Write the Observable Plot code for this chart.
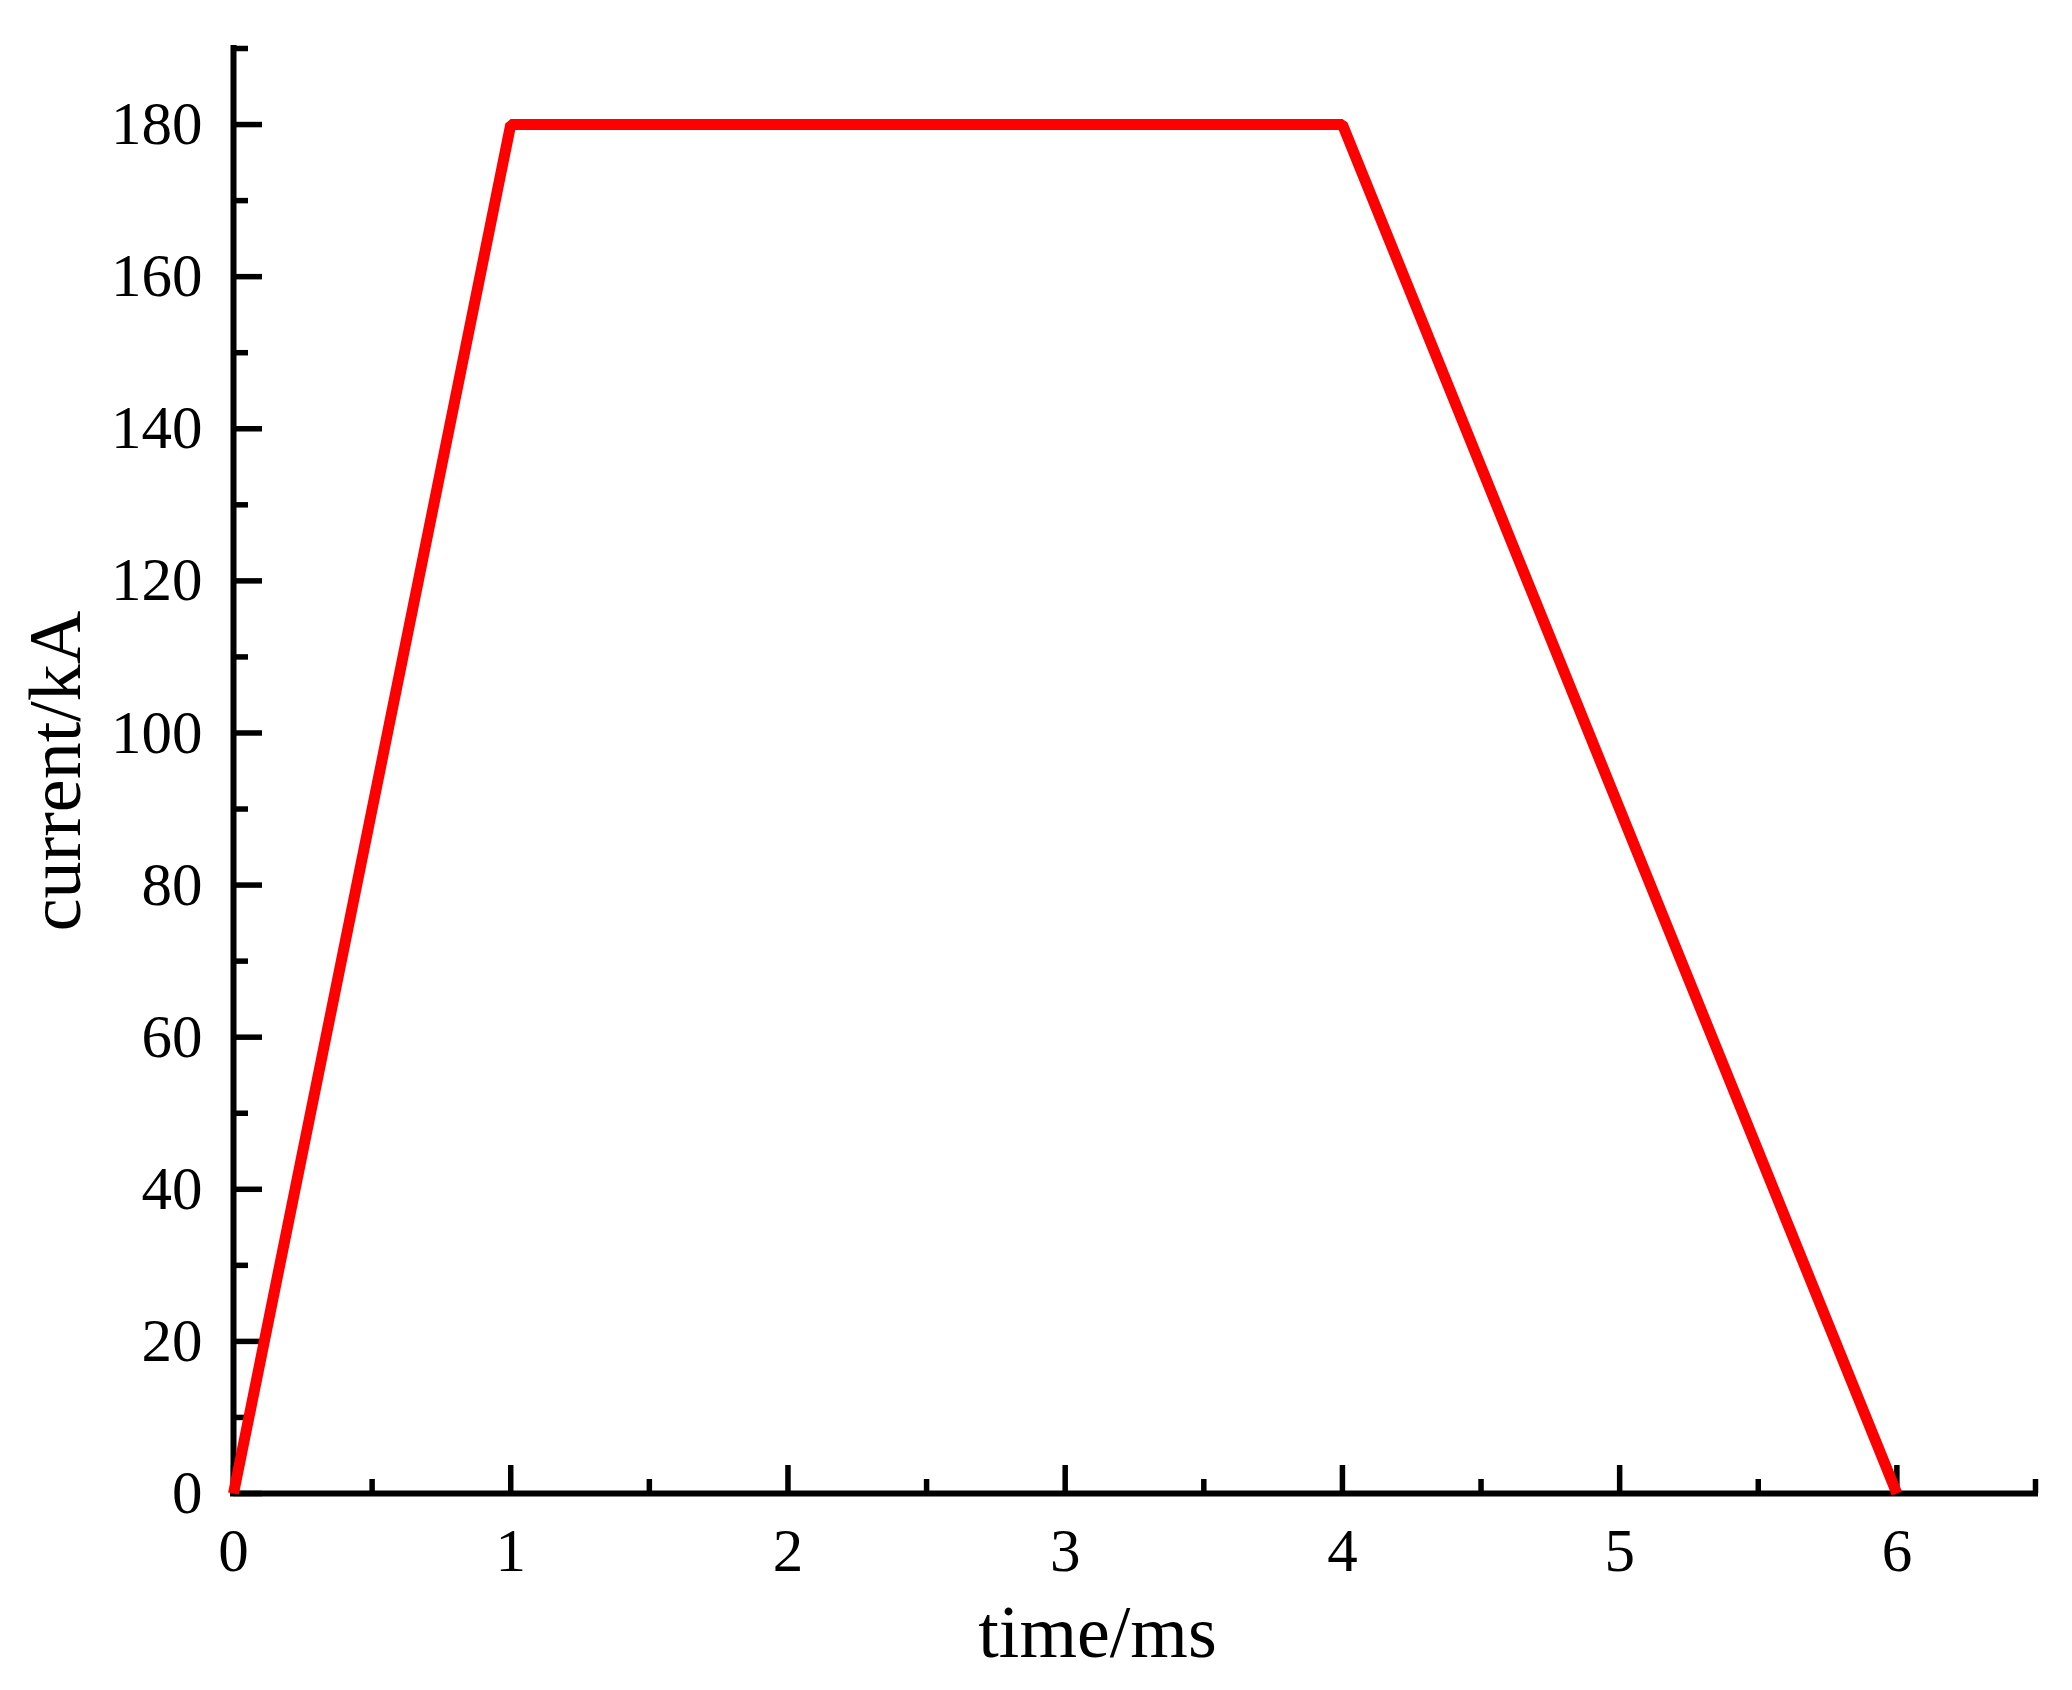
<!DOCTYPE html>
<html>
<head>
<meta charset="utf-8">
<script src="https://cdn.jsdelivr.net/npm/d3@7"></script>
<script src="https://cdn.jsdelivr.net/npm/@observablehq/plot@0.6"></script>
<style>
  html, body { margin: 0; padding: 0; background: #fff; }
</style>
</head>
<body>
<div id="chart"></div>
<script>
// Data
const time = [0, 1, 4, 6];            // ms
const current = [0, 180, 180, 0];     // kA

const xMajorTicks = [0, 1, 2, 3, 4, 5, 6];
const xMinorTicks = [0.5, 1.5, 2.5, 3.5, 4.5, 5.5, 6.5];
const yMajorTicks = [0, 20, 40, 60, 80, 100, 120, 140, 160, 180];
const yMinorTicks = [10, 30, 50, 70, 90, 110, 130, 150, 170, 190];

const xLabel = "time/ms";
const yLabel = "current/kA";

const data = time.map((t, i) => ({time: t, current: current[i]}));

const font = "Liberation Serif, Times New Roman, serif";

const chart = Plot.plot({
  width: 2072,
  height: 1690,
  marginLeft: 233,
  marginRight: 37,
  marginTop: 48,
  marginBottom: 197,
  style: {fontFamily: font, fontSize: "60px", color: "black", background: "white"},
  x: {domain: [0, 6.5], axis: null},
  y: {domain: [0, 190], axis: null},
  marks: [
    // axis lines
    Plot.ruleX([0], {stroke: "black", strokeWidth: 6, strokeLinecap: "square"}),
    Plot.ruleY([0], {stroke: "black", strokeWidth: 6, strokeLinecap: "square"}),
    // x ticks (pointing inward)
    Plot.axisX(xMajorTicks, {anchor: "bottom", tickSize: -28, strokeWidth: 5.5, tickFormat: () => "", label: null}),
    Plot.axisX(xMinorTicks, {anchor: "bottom", tickSize: -14, strokeWidth: 5.5, tickFormat: () => "", label: null}),
    // x tick labels
    Plot.axisX(xMajorTicks, {anchor: "bottom", tickSize: 0, tickPadding: 34, fontSize: 61, fontFamily: font, tickFormat: d => String(d), label: null}),
    // y ticks (pointing inward)
    Plot.axisY(yMajorTicks, {anchor: "left", tickSize: -29, strokeWidth: 5.5, tickFormat: () => "", label: null}),
    Plot.axisY(yMinorTicks, {anchor: "left", tickSize: -15, strokeWidth: 5.5, tickFormat: () => "", label: null}),
    // y tick labels
    Plot.axisY(yMajorTicks, {anchor: "left", tickSize: 0, tickPadding: 31, fontSize: 61, fontFamily: font, tickFormat: d => String(d), label: null}),
    // axis titles
    Plot.text([xLabel], {text: d => d, frameAnchor: "bottom", textAnchor: "middle", lineAnchor: "middle", dx: -37, dy: 140, fontSize: 74, fontFamily: font, fill: "black"}),
    Plot.text([yLabel], {text: d => d, frameAnchor: "left", textAnchor: "middle", lineAnchor: "middle", rotate: -90, dx: -177, fontSize: 74, fontFamily: font, fill: "black"}),
    // the current waveform
    Plot.line(data, {x: "time", y: "current", stroke: "#ff0000", strokeWidth: 11, strokeLinejoin: "miter", strokeLinecap: "butt"})
  ]
});

document.getElementById("chart").appendChild(chart);
</script>
</body>
</html>
